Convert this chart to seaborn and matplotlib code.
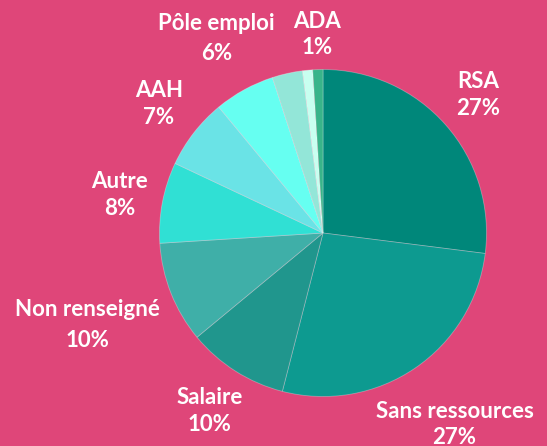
import numpy as np
import matplotlib
matplotlib.use('Agg')
import matplotlib.pyplot as plt
import seaborn as sns

# share of each income source, clockwise from 12 o'clock
categories = ['RSA', 'Sans ressources', 'Salaire', 'Non renseigné', 'Autre',
              'AAH', 'Pôle emploi', '', '', 'ADA']
shares = [27, 27, 10, 10, 8, 7, 6, 3, 1, 1]
pct_labels = ['27%', '27%', '10%', '10%', '8%', '7%', '6%', '', '', '1%']

colors = ['#00877a', '#0d9a90', '#20968d', '#3fafa8', '#30e0d4',
          '#6ae3e6', '#66fff1', '#93e6d8', '#c8fff0', '#38b48a']
# where each label sits, as (x, y) multiples of the pie radius
label_pos = [(0.948, 0.846), (0.804, -1.173), (-0.695, -1.091), (-1.438, -0.565),
             (-1.246, 0.235), (-1.005, 0.789), (-0.653, 1.188), None, None, (-0.039, 1.216)]
line_gap = [1.35, 1.3, 1.35, 1.6, 1.35, 1.35, 1.55, None, None, 1.3]

bg = '#df4679'
sns.set_theme(style='white')
plt.rcParams['font.family'] = ['Lato', 'DejaVu Sans']

fig = plt.figure(figsize=(5.47, 4.46), dpi=100, facecolor=bg)
ax = fig.add_axes([0, 0, 1, 1])
ax.set_facecolor(bg)

ax.pie(shares, colors=colors, startangle=90, counterclock=False,
       wedgeprops=dict(edgecolor=(1, 1, 1, 0.3), linewidth=0.6))

for name, pct, pos, gap in zip(categories, pct_labels, label_pos, line_gap):
    if pos is None:
        continue
    ax.text(pos[0], pos[1], name + '\n' + pct, ha='center', va='center',
            color='white', fontsize=16, fontweight='bold', linespacing=gap)

# pie centre at (323, 233) px, radius about 163.5 px
cx, cy, r = 323, 233, 163.5
ax.set_aspect('auto')
ax.set_xlim(-cx / r, (547 - cx) / r)
ax.set_ylim((cy - 446) / r, cy / r)
ax.axis('off')

fig.savefig('out.png', dpi=100, facecolor=bg)
